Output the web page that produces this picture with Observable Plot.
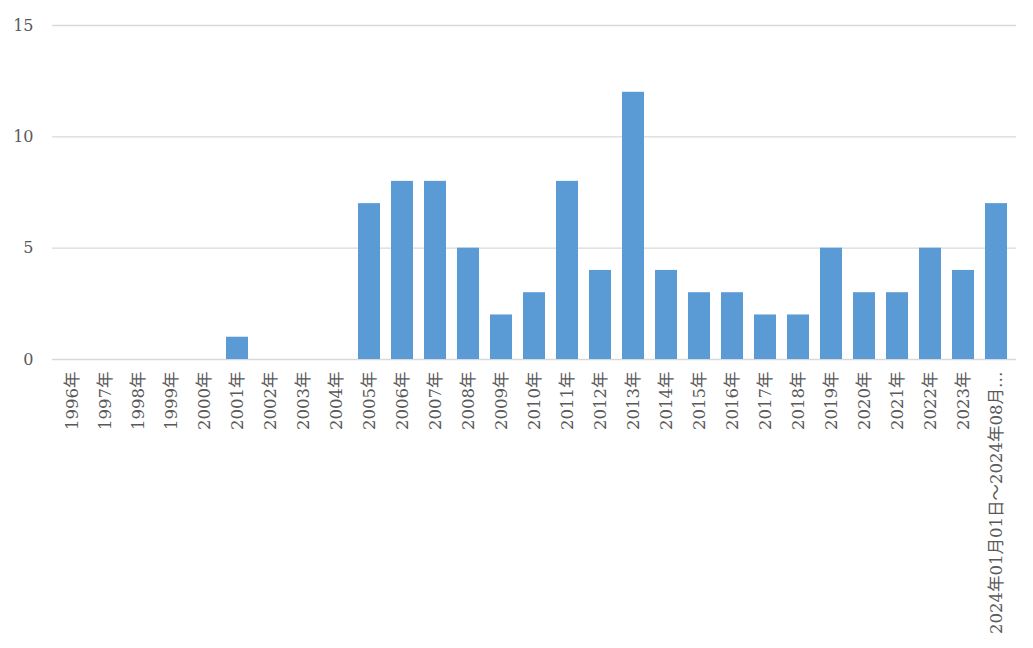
<!DOCTYPE html>
<html>
<head>
<meta charset="utf-8">
<script src="https://cdn.jsdelivr.net/npm/d3@7"></script>
<script src="https://cdn.jsdelivr.net/npm/@observablehq/plot@0.6"></script>
<style>
  html, body { margin: 0; padding: 0; background: #fff; }
</style>
</head>
<body>
<div id="chart"></div>
<script>
const categories = [
  "1996年","1997年","1998年","1999年","2000年","2001年","2002年","2003年","2004年",
  "2005年","2006年","2007年","2008年","2009年","2010年","2011年","2012年","2013年",
  "2014年","2015年","2016年","2017年","2018年","2019年","2020年","2021年","2022年",
  "2023年","2024年01月01日～2024年08月…"
];
const values = [0,0,0,0,0,1,0,0,0,7,8,8,5,2,3,8,4,12,4,3,3,2,2,5,3,3,5,4,7];
const yTicks = [0,5,10,15];

const data = categories.map((c, i) => ({category: c, value: values[i]}));

const chart = Plot.plot({
  width: 1033,
  height: 648,
  marginTop: 25,
  marginBottom: 289,
  marginLeft: 52,
  marginRight: 17,
  style: {fontFamily: "'DejaVu Serif', 'Noto Sans CJK JP', serif", fontSize: "16px", color: "#595959", background: "#fff"},
  x: {domain: categories, paddingInner: 0.34, paddingOuter: 0.17, align: 0.5, label: null},
  y: {domain: [0, 15], label: null},
  marks: [
    Plot.ruleY(yTicks, {stroke: "#d9d9d9", strokeWidth: 1.3}),
    Plot.barY(data, {x: "category", y: "value", fill: "#5b9bd5"}),
    Plot.axisY({ticks: yTicks, tickSize: 0, tickPadding: 19, fill: "#595959", fontSize: 16}),
    Plot.axisX({tickSize: 0, tickRotate: -90, tickPadding: 12, fill: "#595959", fontSize: 16.5})
  ]
});
document.getElementById("chart").appendChild(chart);
</script>
</body>
</html>
